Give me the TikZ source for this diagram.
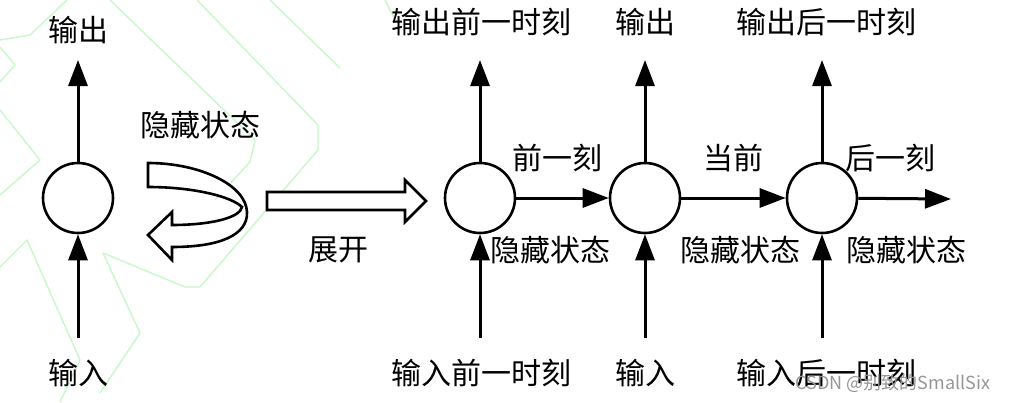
\documentclass[tikz,border=0pt]{standalone}
\usepackage{fontspec}
\newfontfamily\cjk{Noto Sans CJK SC}
\usetikzlibrary{arrows.meta}
\definecolor{wmgreen}{RGB}{200,247,200}
\definecolor{wmgray}{RGB}{150,150,150}
\tikzset{
  lbl/.style={font=\cjk\fontsize{30}{33}\selectfont, inner sep=0pt},
  cell/.style={circle, draw, line width=2.6pt, minimum size=70pt, inner sep=0pt},
  flow/.style={line width=3pt, -{Triangle[length=26pt,width=19pt]}},
  hollow/.style={draw, fill=white, line width=2.6pt, line join=miter},
  wm/.style={draw=wmgreen, line width=1.4pt, line join=round}
}
\begin{document}
\begin{tikzpicture}[x=1pt,y=-1pt]
\useasboundingbox (0,0) rectangle (1010,402);
% watermark strokes
\draw[wm] (197,0) -- (318,125) -- (318,150) -- (200,287) -- (185,287) -- (103,253);
\draw[wm] (110,0) -- (255,140) -- (250,162) -- (215,200);
\draw[wm] (67,0) -- (30,35) -- (0,40);
\draw[wm] (270,0) -- (340,68);
\draw[wm] (0,47) -- (15,65) -- (0,82);
\draw[wm] (0,110) -- (40,160) -- (0,195);
\draw[wm] (0,267) -- (27,240) -- (80,360) -- (60,402);
\draw[wm] (103,253) -- (140,333) -- (100,393);
\draw[wm] (385,0) -- (395,20);
% left folded cell
\node[cell] (c0) at (78,198) {};
\coordinate (o0) at (78,60);
\coordinate (i0) at (78,338);
\draw[flow] (c0) -- (o0);
\draw[flow] (i0) -- (c0);
\node[lbl] (to0) at (78,30) {输出};
\node[lbl] (ti0) at (78,373) {输入};
\node[lbl] (th0) at (200,125) {隐藏状态};
% curved hollow arrow
\path[hollow] (148,163) -- (148,187)
  .. controls (195,187) and (232,197) .. (242,207)
  .. controls (240,218) and (210,225) .. (172,225)
  -- (172,212) -- (148,235) -- (172,260) -- (172,247)
  .. controls (220,247) and (248,235) .. (247,212)
  .. controls (246,185) and (200,163) .. (148,163) -- cycle;
% unfold arrow
\path[hollow] (267,192) -- (405,192) -- (405,180) -- (426,201) -- (405,222) -- (405,210) -- (267,210) -- cycle;
\node[lbl] (unf) at (338,250) {展开};
% unrolled cells
\node[cell] (c1) at (480,198) {};
\node[cell] (c2) at (645,198) {};
\node[cell] (c3) at (822,198) {};
\coordinate (o1) at (480,60);
\coordinate (o2) at (645,60);
\coordinate (o3) at (822,60);
\coordinate (i1) at (480,338);
\coordinate (i2) at (645,338);
\coordinate (i3) at (822,338);
\coordinate (e3) at (951,199);
\foreach \k in {1,2,3}{
  \draw[flow] (c\k) -- (o\k);
  \draw[flow] (i\k) -- (c\k);
}
\draw[flow] (c1) -- (c2);
\draw[flow] (c2) -- (c3);
\draw[flow] (c3) -- (e3);
\node[lbl] (to1) at (481,22) {输出前一时刻};
\node[lbl] (to2) at (645,22) {输出};
\node[lbl] (to3) at (826,22) {输出后一时刻};
\node[lbl] (ti1) at (481,373) {输入前一时刻};
\node[lbl] (ti2) at (645,373) {输入};
\node[lbl] (ti3) at (826,373) {输入后一时刻};
\node[lbl] (tp) at (557,158) {前一刻};
\node[lbl] (tc) at (733,158) {当前};
\node[lbl] (tn) at (890,158) {后一刻};
\node[lbl] (h1) at (550,250) {隐藏状态};
\node[lbl] (h2) at (740,250) {隐藏状态};
\node[lbl] (h3) at (906,250) {隐藏状态};
\node[font=\cjk\fontsize{18}{20}\selectfont, text=wmgray, inner sep=0pt] (wmt) at (893,383) {CSDN @别致的SmallSix};
\end{tikzpicture}
\end{document}
